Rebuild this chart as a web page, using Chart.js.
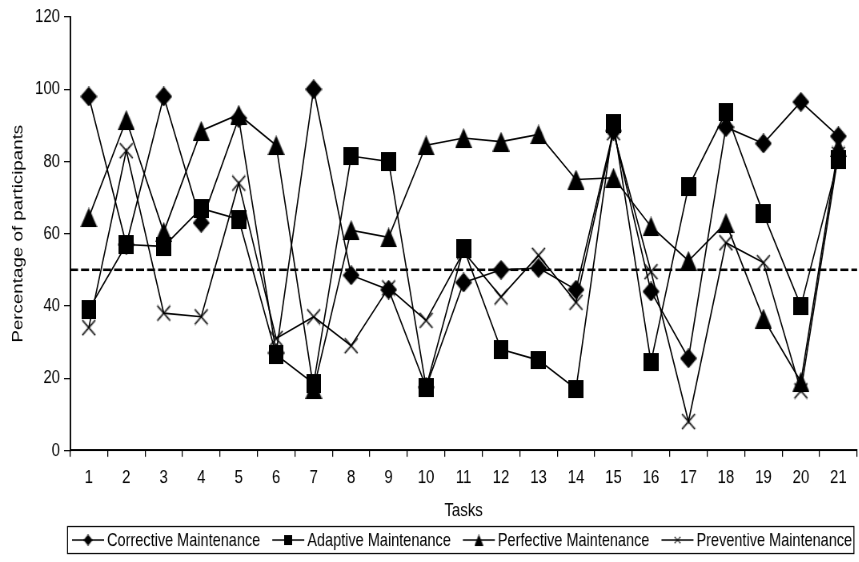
<!DOCTYPE html>
<html>
<head>
<meta charset="utf-8">
<title>Maintenance type by task</title>
<script src="https://cdn.jsdelivr.net/npm/chart.js@4.4.1/dist/chart.umd.min.js"></script>
<style>
  html { overflow: hidden; }
  html, body { margin: 0; padding: 0; background: #fff; }
  body { width: 866px; height: 562px; }
  /* the chart is laid out at 866x450 and stretched to 562 px tall */
  #wrap {
    position: relative;
    width: 866px;
    height: 450px;
    transform: scaleY(1.24889);
    transform-origin: 0 0;
  }
</style>
</head>
<body>
<div id="wrap"><canvas id="chartTasks"></canvas></div>
<script>
// data: percentage of participants per task
const tasks = ['1', '2', '3', '4', '5', '6', '7', '8', '9', '10', '11',
               '12', '13', '14', '15', '16', '17', '18', '19', '20', '21'];
const corrective = [98, 57, 98, 63, 92, 27, 100, 48.5, 44.5, 17.5, 46.5,
                    50, 50.5, 44.5, 88.5, 44, 25.5, 89.5, 85, 96.5, 87];
const adaptive   = [39, 57, 56.5, 67, 64, 26.5, 18.5, 81.5, 80, 17.5, 56,
                    28, 25, 17, 90.5, 24.5, 73, 93.7, 65.5, 40, 80.5];
const perfective = [64.5, 91.5, 60.5, 88.5, 93, 84.5, 17, 61, 59, 84.5, 86.5,
                    85.5, 87.5, 75, 75.5, 62, 52.5, 63, 36.5, 19, 84];
const preventive = [34, 83, 38, 37, 74, 31, 37, 29, 45, 36, 55,
                    42.5, 54, 41, 88, 49.5, 8, 57.5, 52, 16.5, 82];
const seriesNames = ['Corrective Maintenance', 'Adaptive Maintenance',
                     'Perfective Maintenance', 'Preventive Maintenance'];
const yTicks = [0, 20, 40, 60, 80, 100, 120];
const threshold = 50;

(function () {
    'use strict';

    const FONT = '"Liberation Sans", Arial, sans-serif';

    // =================== Markers ===================

    function makeMarker(kind, w, h, lw) {
        const c = document.createElement('canvas');
        c.width = w;
        c.height = h;
        const g = c.getContext('2d');
        g.fillStyle = '#000';
        g.strokeStyle = '#000';
        g.beginPath();
        if (kind === 'diamond') {
            g.moveTo(w / 2, 0);
            g.lineTo(w, h / 2);
            g.lineTo(w / 2, h);
            g.lineTo(0, h / 2);
            g.closePath();
            g.fill();
        } else if (kind === 'square') {
            g.fillRect(0, 0, w, h);
        } else if (kind === 'triangle') {
            g.moveTo(w / 2, 0);
            g.lineTo(w, h);
            g.lineTo(0, h);
            g.closePath();
            g.fill();
        } else {
            g.lineWidth = lw || 1.2;
            g.moveTo(1, 1);
            g.lineTo(w - 1, h - 1);
            g.moveTo(w - 1, 1);
            g.lineTo(1, h - 1);
            g.stroke();
        }
        return c;
    }

    const markers = [
        makeMarker('diamond', 17, 16),
        makeMarker('square', 15, 15),
        makeMarker('triangle', 17, 16),
        makeMarker('cross', 15, 14, 1.2)
    ];
    const legendMarkers = [
        makeMarker('diamond', 9, 9),
        makeMarker('square', 8, 8),
        makeMarker('triangle', 9, 9),
        makeMarker('cross', 8, 7, 1)
    ];

    // =================== Plugins ===================

    // horizontal dashed reference line at 50%
    const thresholdLine = {
        id: 'thresholdLine',
        beforeDatasetsDraw(chart) {
            const y = chart.scales.y.getPixelForValue(threshold);
            const ctx = chart.ctx;
            ctx.save();
            ctx.strokeStyle = '#000';
            ctx.lineWidth = 2.1;
            ctx.setLineDash([8, 3]);
            ctx.beginPath();
            ctx.moveTo(chart.chartArea.left, y);
            ctx.lineTo(chart.chartArea.right, y);
            ctx.stroke();
            ctx.restore();
        }
    };

    // boxed legend under the axis title
    const boxLegend = {
        id: 'boxLegend',
        afterDraw(chart) {
            const ctx = chart.ctx;
            const top = 421.2, h = 21.6, cy = top + h / 2;
            ctx.save();
            ctx.strokeStyle = '#000';
            ctx.lineWidth = 1;
            ctx.strokeRect(67.5, top, 786, h);

            ctx.font = '14.5px ' + FONT;
            ctx.fillStyle = '#000';
            ctx.textBaseline = 'middle';
            let x = 72;
            seriesNames.forEach(function (name, i) {
                ctx.beginPath();
                ctx.lineWidth = 1.2;
                ctx.moveTo(x, cy);
                ctx.lineTo(x + 32, cy);
                ctx.stroke();
                const m = legendMarkers[i];
                ctx.drawImage(m, x + 16 - m.width / 2, cy - m.height / 2);
                x += 35;
                ctx.fillText(name, x, cy + 0.5);
                x += ctx.measureText(name).width + 12;
            });
            ctx.restore();
        }
    };

    // =================== Chart ===================

    function dataset(label, values, i) {
        return {
            label: label,
            data: values,
            borderColor: '#000',
            backgroundColor: '#000',
            borderWidth: 1.3,
            pointStyle: markers[i],
            pointRadius: 8,
            pointHoverRadius: 8,
            tension: 0,
            fill: false
        };
    }

    const ctx = document.getElementById('chartTasks').getContext('2d');

    new Chart(ctx, {
        type: 'line',
        data: {
            labels: tasks,
            datasets: [
                dataset(seriesNames[0], corrective, 0),
                dataset(seriesNames[1], adaptive, 1),
                dataset(seriesNames[2], perfective, 2),
                dataset(seriesNames[3], preventive, 3)
            ]
        },
        options: {
            responsive: true,
            maintainAspectRatio: false,
            devicePixelRatio: 1.25,
            animation: false,
            layout: { padding: { top: 13.6, left: 0, right: 0, bottom: 0 } },
            plugins: {
                legend: { display: false },
                tooltip: { enabled: false }
            },
            scales: {
                x: {
                    type: 'category',
                    offset: true,
                    afterFit: function (scale) { scale.height = 89.7; },
                    grid: {
                        offset: true,
                        drawOnChartArea: false,
                        drawTicks: true,
                        tickLength: 5,
                        color: '#000',
                        lineWidth: 1
                    },
                    border: { color: '#000', width: 1.5 },
                    ticks: {
                        color: '#000',
                        padding: 8,
                        autoSkip: false,
                        maxRotation: 0,
                        font: { family: FONT, size: 15 }
                    },
                    title: {
                        display: true,
                        text: 'Tasks',
                        color: '#000',
                        font: { family: FONT, size: 15 },
                        padding: { top: 0, bottom: 32 }
                    }
                },
                y: {
                    min: 0,
                    max: 120,
                    afterFit: function (scale) { scale.width = 70; },
                    afterBuildTicks: function (scale) {
                        scale.ticks = yTicks.map(v => ({ value: v }));
                    },
                    grid: {
                        drawOnChartArea: false,
                        drawTicks: true,
                        tickLength: 6,
                        color: '#000',
                        lineWidth: 1
                    },
                    border: { color: '#000', width: 1.5 },
                    ticks: {
                        color: '#000',
                        padding: 4,
                        font: { family: FONT, size: 15 }
                    },
                    title: {
                        display: true,
                        text: 'Percentage of participants',
                        color: '#000',
                        font: { family: FONT, size: 15 },
                        padding: { top: 9, bottom: 0 }
                    }
                }
            }
        },
        plugins: [thresholdLine, boxLegend]
    });
})();
</script>
</body>
</html>
